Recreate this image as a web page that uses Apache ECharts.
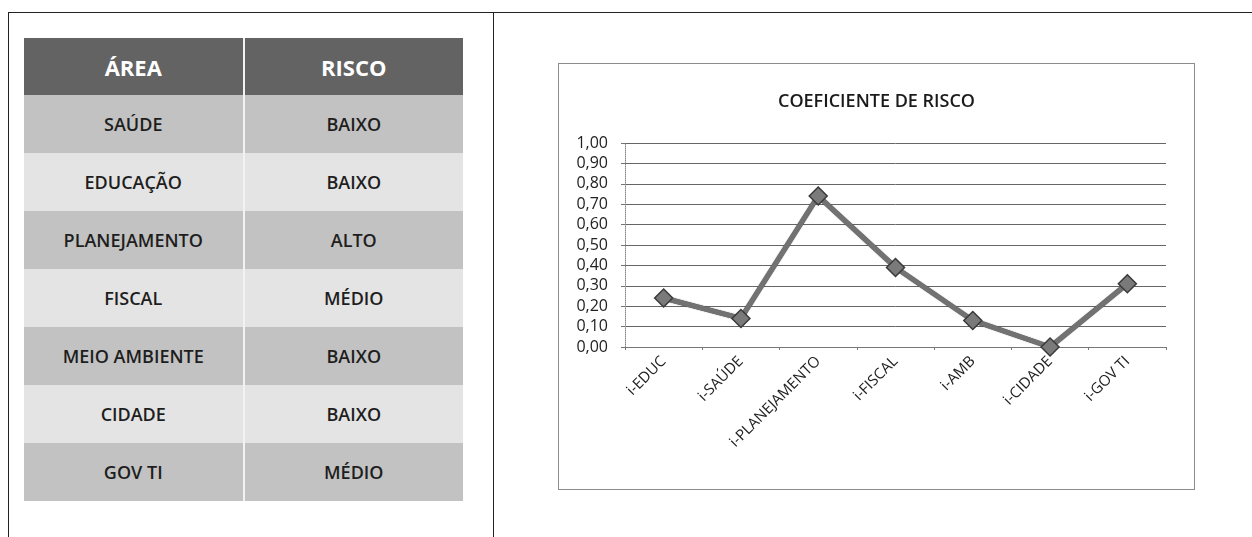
<!DOCTYPE html>
<html>
<head>
<meta charset="utf-8">
<script src="https://cdn.jsdelivr.net/npm/echarts@6/dist/echarts.min.js"></script>
<style>
  html, body { margin: 0; padding: 0; background: #fff; }
  body { width: 1252px; height: 537px; position: relative; overflow: hidden; font-family: "Open Sans", sans-serif; }
  .linha { position: absolute; background: #222; }
  #tabela { position: absolute; left: 24px; top: 38px; width: 439px; border-collapse: collapse; table-layout: fixed; }
  #tabela th, #tabela td { text-align: center; padding: 0; }
  #tabela th { height: 57px; background: #636363; color: #fff; font-size: 22px; font-weight: 700; }
  #tabela td { height: 58px; color: #1e1e1e; font-size: 18px; font-weight: 600; }
  #tabela tr.escuro td { background: #c2c2c2; }
  #tabela tr.claro td { background: #e4e4e4; }
  #tabela .c1 { border-right: 2px solid #f2f2f2; }
  #grafico { position: absolute; left: 558px; top: 63px; width: 637px; height: 427px; border: 1px solid #8c8c8c; box-sizing: border-box; }
</style>
</head>
<body>
<div class="linha" style="left:8px; top:12px; width:1244px; height:1px;"></div>
<div class="linha" style="left:8px; top:12px; width:1px; height:525px;"></div>
<div class="linha" style="left:493px; top:12px; width:1px; height:525px;"></div>

<table id="tabela"></table>
<div id="grafico"></div>

<script>
// tabela
var cabecalho = ['ÁREA', 'RISCO'];
var areas = ['SAÚDE', 'EDUCAÇÃO', 'PLANEJAMENTO', 'FISCAL', 'MEIO AMBIENTE', 'CIDADE', 'GOV TI'];
var riscos = ['BAIXO', 'BAIXO', 'ALTO', 'MÉDIO', 'BAIXO', 'BAIXO', 'MÉDIO'];

// grafico
var titulo = 'COEFICIENTE DE RISCO';
var categorias = ['i-EDUC', 'i-SAÚDE', 'i-PLANEJAMENTO', 'i-FISCAL', 'i-AMB', 'i-CIDADE', 'i-GOV TI'];
var coeficientes = [0.24, 0.14, 0.74, 0.39, 0.13, 0.00, 0.31];

var html = '<tr><th class="c1">' + cabecalho[0] + '</th><th>' + cabecalho[1] + '</th></tr>';
for (var i = 0; i < areas.length; i++) {
    var cls = (i % 2 == 0) ? 'escuro' : 'claro';
    html += '<tr class="' + cls + '"><td class="c1">' + areas[i] + '</td><td>' + riscos[i] + '</td></tr>';
}
document.getElementById('tabela').innerHTML = html;

var chartDom = document.getElementById('grafico');
var myChart = echarts.init(chartDom);

var option = {
    animation: false,
    title: {
        text: titulo,
        left: 'center',
        top: 24,
        textStyle: { fontFamily: 'Open Sans', fontSize: 18, fontWeight: 600, color: '#1a1a1a' }
    },
    grid: { left: 66, right: 28, top: 79, bottom: 142 },
    xAxis: {
        type: 'category',
        data: categorias,
        axisLine: { lineStyle: { color: '#777', width: 1 } },
        axisTick: { show: true, length: 3, lineStyle: { color: '#777' } },
        axisLabel: { rotate: 45, fontFamily: 'Open Sans', fontSize: 15, color: '#222', margin: 12 }
    },
    yAxis: {
        type: 'value',
        min: 0,
        max: 1,
        interval: 0.1,
        axisLine: { show: true, lineStyle: { color: '#888', width: 1, type: 'dotted' } },
        axisTick: { show: true, length: 4, lineStyle: { color: '#777' } },
        axisLabel: {
            fontFamily: 'Open Sans', fontSize: 16, color: '#222', margin: 17,
            formatter: function (v) { return v.toFixed(2).replace('.', ','); }
        },
        splitLine: { lineStyle: { color: '#666', width: 1 } }
    },
    series: [
        {
            type: 'line',
            data: coeficientes,
            symbol: 'diamond',
            symbolSize: 18,
            lineStyle: { color: '#727272', width: 5, shadowColor: '#333', shadowBlur: 1 },
            itemStyle: { color: '#7a7a7a', borderColor: '#3a3a3a', borderWidth: 1.5 }
        }
    ]
};

option && myChart.setOption(option);
</script>
</body>
</html>
